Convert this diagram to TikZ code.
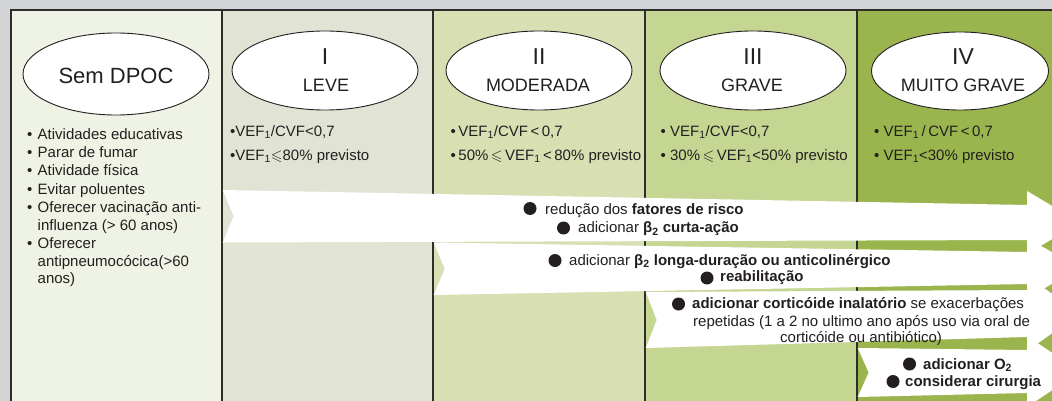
\documentclass[tikz,border=0pt]{standalone}
\usepackage{fontspec}
\setmainfont{Liberation Sans}
\usepackage{amssymb}
\usetikzlibrary{shapes.geometric}
\definecolor{bggray}{HTML}{D3D4D6}
\definecolor{czero}{HTML}{EEF3E5}
\definecolor{cone}{HTML}{E1E4D5}
\definecolor{ctwo}{HTML}{D8DFB3}
\definecolor{cthree}{HTML}{C5D592}
\definecolor{cfour}{HTML}{9BB54E}
\definecolor{linec}{HTML}{2E2D2C}
\definecolor{txt}{HTML}{231F20}
\tikzset{
  stage/.style={ellipse, draw=txt, line width=0.9pt, fill=white, inner sep=0pt},
  bigtxt/.style={font=\fontsize{22}{24}\selectfont, text=txt, inner sep=0pt, anchor=base},
  romantxt/.style={font=\fontsize{23}{25}\selectfont, text=txt, inner sep=0pt, anchor=base},
  sevtxt/.style={font=\fontsize{18}{20}\selectfont, text=txt, inner sep=0pt, anchor=base},
  itemtxt/.style={font=\fontsize{15}{18}\selectfont, text=txt, inner sep=0pt, anchor=base west},
  colline/.style={draw=linec, line width=1.4pt},
  bandfill/.style={fill=white},
  bdot/.style={fill=txt},
}
\newcommand\mkband[5]{%
  \fill[bandfill] (#1,#2) -- (1027,#4) -- (1027,{#4-14}) -- (1080,{(#4+#5)/2})
    -- (1027,{#5+14}) -- (1027,#5) -- (#1,#3) -- ({#1+11},{(#2+#3)/2}) -- cycle;}
\begin{document}
\begin{tikzpicture}[x=1pt,y=-1pt]
\useasboundingbox (0,0) rectangle (1052,401);
\clip (0,0) rectangle (1052,401);
\fill[bggray] (0,0) rectangle (1052,401);
\fill[czero] (11,10) rectangle (222,401);
\fill[cone] (222,10) rectangle (433,401);
\fill[ctwo] (433,10) rectangle (645,401);
\fill[cthree] (645,10) rectangle (857,401);
\fill[cfour] (857,10) rectangle (1052,401);
\draw[colline] (11,402) -- (11,10) -- (1053,10);
\foreach \x in {222,433,645,857} \draw[colline] (\x,10) -- (\x,402);

% bands
\mkband{222.7}{190}{242.5}{205}{240}
\mkband{433.7}{242.5}{295}{252}{284}
\mkband{645.7}{292}{348}{290}{337}
\mkband{857.7}{348}{397}{350}{393}

% ellipses
\node[stage, minimum width=186pt, minimum height=82pt] (e0) at (116,74) {};
\node[stage, minimum width=186pt, minimum height=79pt] (e1) at (325,70.5) {};
\node[stage, minimum width=186pt, minimum height=79pt] (e2) at (539,70.5) {};
\node[stage, minimum width=186pt, minimum height=79pt] (e3) at (753,70.5) {};
\node[stage, minimum width=177pt, minimum height=78pt] (e4) at (960,71) {};

\node[bigtxt] (t0) at (116,83.3) {Sem DPOC};
\node[romantxt] (r1) at (325,65) {I};
\node[sevtxt] (s1) at (326,91.5) {LEVE};
\node[romantxt] (r2) at (539,65) {II};
\node[sevtxt] (s2) at (538,91.5) {MODERADA};
\node[romantxt] (r3) at (753,65) {III};
\node[sevtxt] (s3) at (752,91.5) {GRAVE};
\node[romantxt] (r4) at (963,65) {IV};
\node[sevtxt] (s4) at (963,91.5) {MUITO\ GRAVE};

% column 0 list
\node[itemtxt] (a1) at (27,139.3) {\makebox[10.5pt][l]{\textbullet}Atividades educativas};
\node[itemtxt] (a2) at (27,157.3) {\makebox[10.5pt][l]{\textbullet}Parar de fumar};
\node[itemtxt] (a3) at (27,175.7) {\makebox[10.5pt][l]{\textbullet}Atividade física};
\node[itemtxt] (a4) at (27,194) {\makebox[10.5pt][l]{\textbullet}Evitar poluentes};
\node[itemtxt] (a5) at (27,212.5) {\makebox[10.5pt][l]{\textbullet}Oferecer vacinação anti-};
\node[itemtxt] (a6) at (37.5,230.7) {influenza (> 60 anos)};
\node[itemtxt] (a7) at (27,248.3) {\makebox[10.5pt][l]{\textbullet}Oferecer};
\node[itemtxt] (a8) at (37.5,266) {antipneumocócica(>60};
\node[itemtxt] (a9) at (37.5,283.3) {anos)};

% columns 1-4 criteria
\node[itemtxt] (c1a) at (230,136) {\textbullet VEF\textsubscript{1}/CVF<0,7};
\node[itemtxt] (c1b) at (230,160.5) {\textbullet VEF\textsubscript{1}$\leqslant$80\% previsto};
\node[itemtxt] (c2a) at (450.5,136) {\textbullet\,VEF\textsubscript{1}/CVF\,<\,0,7};
\node[itemtxt] (c2b) at (450.5,160.5) {\textbullet\,50\%\,$\leqslant$\,VEF\textsubscript{1}\,<\,80\% previsto};
\node[itemtxt] (c3a) at (660.5,136) {\textbullet\ VEF\textsubscript{1}/CVF<0,7};
\node[itemtxt] (c3b) at (660.5,160.5) {\textbullet\ 30\%\,$\leqslant$\,VEF\textsubscript{1}<50\% previsto};
\node[itemtxt] (c4a) at (874,136.5) {\textbullet\ VEF\textsubscript{1}\,/\,CVF\,<\,0,7};
\node[itemtxt] (c4b) at (874,160.5) {\textbullet\ VEF\textsubscript{1}<30\% previsto};

% band texts
\fill[bdot] (530,208.5) circle (6.5pt);
\node[itemtxt] (b1a) at (545,214) {redução dos \textbf{fatores de risco}};
\fill[bdot] (563.5,228) circle (6.5pt);
\node[itemtxt] (b1b) at (578,232.7) {adicionar \textbf{β\textsubscript{2} curta-ação}};
\fill[bdot] (555,260.5) circle (6.5pt);
\node[itemtxt] (b2a) at (569,265) {adicionar \textbf{β\textsubscript{2} longa-duração ou anticolinérgico}};
\fill[bdot] (707,278) circle (6.5pt);
\node[itemtxt] (b2b) at (720,281.7) {\textbf{reabilitação}};
\fill[bdot] (678.5,304) circle (6.5pt);
\node[itemtxt] (b3a) at (692,308) {\textbf{adicionar corticóide inalatório} se exacerbações};
\node[itemtxt] (b3b) at (693,326.7) {repetidas (1 a 2 no ultimo ano após uso via oral de};
\node[itemtxt] (b3c) at (780,342.7) {corticóide ou antibiótico)};
\fill[bdot] (909.5,364) circle (6.5pt);
\node[itemtxt] (b4a) at (923,369) {\textbf{adicionar O\textsubscript{2}}};
\fill[bdot] (893,381.5) circle (6.5pt);
\node[itemtxt] (b4b) at (905,386.7) {\textbf{considerar cirurgia}};
\end{tikzpicture}
\end{document}
